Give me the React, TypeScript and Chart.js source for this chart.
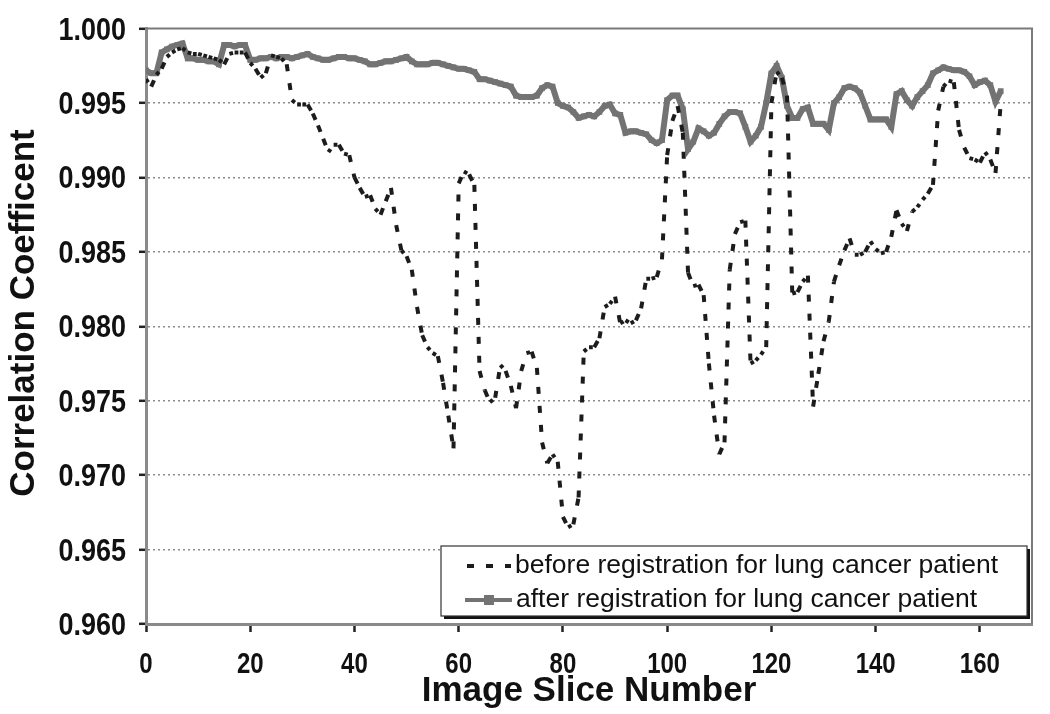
import React, { useEffect, useRef } from "react";
import { Chart, registerables } from "chart.js";

Chart.register(...registerables);

// Correlation coefficient per image slice (slice numbers 0..164)
const beforeRegistration: number[] = [
  0.9966, 0.9961, 0.9969, 0.9973, 0.9981, 0.9984, 0.9986, 0.9987, 0.9984, 0.9983,
  0.9983, 0.9982, 0.9981, 0.998, 0.9979, 0.9976, 0.9983, 0.9984, 0.9984, 0.9984,
  0.9977, 0.9973, 0.9967, 0.997, 0.9982, 0.9981, 0.998, 0.9976, 0.9952, 0.9949,
  0.9949, 0.9949, 0.9943, 0.9935, 0.9926, 0.9917, 0.9922, 0.9922, 0.9916, 0.9915,
  0.99, 0.9893, 0.9887, 0.9888, 0.9879, 0.9875, 0.9884, 0.9893, 0.9868, 0.9851,
  0.9847, 0.9838, 0.9813, 0.9794, 0.9786, 0.9782, 0.978, 0.9762, 0.974, 0.9718,
  0.9896, 0.9904, 0.9902, 0.9895, 0.977, 0.9757, 0.9749, 0.9752, 0.9774, 0.977,
  0.976, 0.9745, 0.977, 0.9782, 0.9783, 0.9772, 0.9722, 0.9708, 0.9714, 0.9709,
  0.9672, 0.9665, 0.9667, 0.9685, 0.9783, 0.9786, 0.9786, 0.9792, 0.9813, 0.9815,
  0.982, 0.9802, 0.9804, 0.9802, 0.9804, 0.9812, 0.9832, 0.9832, 0.9833, 0.9845,
  0.9915, 0.9938, 0.9948, 0.993, 0.9836, 0.9827, 0.9828, 0.9821, 0.9775, 0.974,
  0.9714, 0.9722, 0.9838, 0.9862, 0.987, 0.9871, 0.9775, 0.9777, 0.9781, 0.9786,
  0.995, 0.9971, 0.9967, 0.9955, 0.9822, 0.9823, 0.983, 0.9834, 0.9746, 0.9768,
  0.979, 0.9803, 0.983, 0.9841, 0.9851, 0.9859, 0.9848, 0.9848, 0.985, 0.9857,
  0.9852, 0.9849, 0.985, 0.986, 0.9878, 0.9869, 0.9864, 0.9877, 0.988, 0.9885,
  0.9889, 0.9895, 0.9945, 0.9961, 0.9965, 0.9964, 0.9932, 0.992, 0.9913, 0.9912,
  0.991, 0.9917, 0.9912, 0.9903, 0.9950,
];

const afterRegistration: number[] = [
  0.9972, 0.997, 0.997, 0.9984, 0.9986, 0.9988, 0.9989, 0.999, 0.998, 0.998,
  0.9979, 0.9979, 0.9978, 0.9978, 0.9976, 0.9989, 0.9989, 0.9988, 0.9989, 0.9989,
  0.9979, 0.9979, 0.998, 0.998, 0.9981, 0.998, 0.9981, 0.9981, 0.998, 0.9981,
  0.9982, 0.9983, 0.9981, 0.998, 0.9979, 0.9979, 0.998, 0.9981, 0.9981, 0.998,
  0.998, 0.9979, 0.9978, 0.9976, 0.9976, 0.9977, 0.9978, 0.9978, 0.9979, 0.998,
  0.9981, 0.9978, 0.9976, 0.9976, 0.9976, 0.9977, 0.9977, 0.9976, 0.9975, 0.9974,
  0.9973, 0.9973, 0.9972, 0.9971, 0.9966, 0.9966, 0.9965, 0.9964, 0.9963, 0.9962,
  0.9961, 0.9955, 0.9954, 0.9954, 0.9954, 0.9955, 0.996, 0.9962, 0.9961, 0.995,
  0.9948, 0.9947, 0.9944, 0.994, 0.9941, 0.9942, 0.9941, 0.9944, 0.9948, 0.9949,
  0.9943, 0.9942, 0.993, 0.9931, 0.9931, 0.993, 0.9929, 0.9925, 0.9923, 0.9925,
  0.9952, 0.9955, 0.9955, 0.9946, 0.9919, 0.9924, 0.9933, 0.9931, 0.9928, 0.993,
  0.9936, 0.9941, 0.9944, 0.9944, 0.9943, 0.9934, 0.9924, 0.9928, 0.9934, 0.995,
  0.997, 0.9975, 0.9967, 0.9948, 0.994, 0.994, 0.9946, 0.9947, 0.9936, 0.9936,
  0.9936, 0.9932, 0.995, 0.9954, 0.996, 0.9961, 0.996, 0.9957, 0.9948, 0.9939,
  0.9939, 0.9939, 0.9939, 0.9934, 0.9956, 0.9958, 0.9952, 0.9948, 0.9954, 0.9958,
  0.9962, 0.997, 0.9972, 0.9974, 0.9973, 0.9972, 0.9972, 0.9971, 0.9968, 0.9962,
  0.9964, 0.9965, 0.9962, 0.9951, 0.9958,
];

const xTickValues: number[] = [0, 20, 40, 60, 80, 100, 120, 140, 160];
const yTickLabels: string[] = ["0.960", "0.965", "0.970", "0.975", "0.980", "0.985", "0.990", "0.995", "1.000"];

const beforeLabel = "before registration for lung cancer patient";
const afterLabel = "after registration for lung cancer patient";
const xTitle = "Image Slice Number";
const yTitle = "Correlation Coefficent";

const FONT = '"Liberation Sans", Arial, Helvetica, sans-serif';
const AFTER_COLOR = "#737373";
const BEFORE_COLOR = "#1c1c1c";

// draws the condensed bold tick labels at the positions given by the chart's scales
const tickLabels = {
  id: "tickLabels",
  afterDraw(chart: any) {
    const { ctx } = chart;
    const xs = chart.scales.x;
    const ys = chart.scales.y;
    ctx.save();
    ctx.fillStyle = "#111";
    ctx.textBaseline = "alphabetic";
    // y labels
    ctx.font = `bold 31px ${FONT}`;
    ctx.textAlign = "right";
    ys.ticks.forEach((t: any, i: number) => {
      const py = ys.getPixelForValue(t.value);
      ctx.save();
      ctx.translate(126, py + 11);
      ctx.scale(0.87, 1);
      ctx.fillText(yTickLabels[i], 0, 0);
      ctx.restore();
    });
    // x labels
    ctx.font = `bold 30px ${FONT}`;
    ctx.textAlign = "center";
    xs.ticks.forEach((t: any) => {
      const px = xs.getPixelForValue(t.value);
      ctx.save();
      ctx.translate(px, 673);
      ctx.scale(0.8, 1);
      ctx.fillText(String(t.value), 0, 0);
      ctx.restore();
    });
    ctx.restore();
  },
};

const frameAndLegend = {
  id: "frameAndLegend",
  afterDraw(chart: any) {
    const { ctx, chartArea } = chart;
    const { left, right, top, bottom } = chartArea;
    ctx.save();
    // top and right frame lines
    ctx.strokeStyle = "#7a7a7a";
    ctx.lineWidth = 2;
    ctx.beginPath();
    ctx.moveTo(left, top);
    ctx.lineTo(right, top);
    ctx.lineTo(right, bottom);
    ctx.stroke();

    // y axis title
    ctx.save();
    ctx.translate(24, 313);
    ctx.rotate(-Math.PI / 2);
    ctx.fillStyle = "#111";
    ctx.font = `bold 35px ${FONT}`;
    ctx.textAlign = "center";
    ctx.textBaseline = "middle";
    ctx.fillText(yTitle, 0, 0);
    ctx.restore();

    // legend box
    const bx = 441, by = 546, bw = 586, bh = 70;
    ctx.fillStyle = "#111";
    ctx.fillRect(bx + 3, by + 3, bw, bh);
    ctx.fillStyle = "#fff";
    ctx.fillRect(bx, by, bw, bh);
    ctx.strokeStyle = "#333";
    ctx.lineWidth = 1.2;
    ctx.strokeRect(bx, by, bw, bh);

    const y1 = 566, y2 = 600;
    // before sample
    ctx.strokeStyle = BEFORE_COLOR;
    ctx.lineWidth = 4;
    ctx.setLineDash([7, 12]);
    ctx.beginPath();
    ctx.moveTo(467, y1);
    ctx.lineTo(511, y1);
    ctx.stroke();
    ctx.setLineDash([]);
    // after sample
    ctx.strokeStyle = AFTER_COLOR;
    ctx.lineWidth = 4;
    ctx.beginPath();
    ctx.moveTo(465, y2);
    ctx.lineTo(512, y2);
    ctx.stroke();
    ctx.fillStyle = AFTER_COLOR;
    ctx.fillRect(484, y2 - 5, 10, 10);

    ctx.fillStyle = "#111";
    ctx.font = `26.5px ${FONT}`;
    ctx.textBaseline = "middle";
    ctx.textAlign = "left";
    ctx.fillText(beforeLabel, 515, y1);
    ctx.fillText(afterLabel, 516, y2);
    ctx.restore();
  },
};

export default function App() {
  const canvasRef = useRef<HTMLCanvasElement | null>(null);

  useEffect(() => {
    const canvas = canvasRef.current;
    if (!canvas) return;

    const beforePts = beforeRegistration.map((v, i) => ({ x: i, y: v }));
    const afterPts = afterRegistration.map((v, i) => ({ x: i, y: v }));

    const chart = new Chart(canvas, {
      type: "line",
      data: {
        datasets: [
          {
            label: beforeLabel,
            data: beforePts,
            borderColor: BEFORE_COLOR,
            borderWidth: 4,
            borderCapStyle: "butt",
            pointRadius: 0,
            tension: 0,
            fill: false,
            segment: {
              borderDash: (c: any) => {
                const len = Math.hypot(c.p1.x - c.p0.x, c.p1.y - c.p0.y);
                return len < 10 ? [3.8, 60] : [7, 12];
              },
              borderDashOffset: (c: any) => (c.p0DataIndex % 2) * 0.01,
            },
          } as any,
          {
            label: afterLabel,
            data: afterPts,
            borderColor: AFTER_COLOR,
            borderWidth: 6,
            pointStyle: "rect",
            pointRadius: 4,
            pointBorderWidth: 0,
            pointBackgroundColor: AFTER_COLOR,
            tension: 0,
            fill: false,
          } as any,
        ],
      },
      options: {
        responsive: false,
        animation: false,
        devicePixelRatio: 1,
        layout: { padding: { top: 21, right: 18, left: 0, bottom: 0 } },
        plugins: { legend: { display: false }, tooltip: { enabled: false } },
        scales: {
          x: {
            type: "linear",
            min: 0,
            max: 170,
            afterBuildTicks: (s: any) => {
              s.ticks = xTickValues.map((v) => ({ value: v }));
            },
            afterFit: (s: any) => {
              s.height = 90;
            },
            ticks: {
              font: { family: FONT, size: 24, weight: "bold" },
              color: "rgba(0,0,0,0)",
              padding: 14,
              maxRotation: 0,
              autoSkip: false,
            },
            grid: {
              drawOnChartArea: false,
              drawTicks: true,
              tickLength: 8,
              tickColor: "#222",
              tickWidth: 2.5,
            },
            border: { display: true, color: "#8a8a8a", width: 3 },
            title: {
              display: true,
              text: xTitle,
              color: "#111",
              font: { family: FONT, size: 35, weight: "bold" },
              padding: { top: 0, bottom: 2 },
            },
          },
          y: {
            type: "linear",
            min: 0.96,
            max: 1.0,
            afterBuildTicks: (s: any) => {
              s.ticks = yTickLabels.map((t) => ({ value: parseFloat(t) }));
            },
            afterFit: (s: any) => {
              s.width = 146;
            },
            ticks: {
              font: { family: FONT, size: 26, weight: "bold" },
              color: "rgba(0,0,0,0)",
              padding: 13,
              autoSkip: false,
              callback: (_v: any, i: number) => yTickLabels[i],
            },
            grid: {
              drawOnChartArea: true,
              drawTicks: true,
              tickLength: 7,
              lineWidth: 1.6,
              color: (c: any) => {
                const v = c.tick ? c.tick.value : 0;
                return Math.abs(v - 0.96) < 1e-6 || Math.abs(v - 1) < 1e-6 ? "rgba(0,0,0,0)" : "#8c8c8c";
              },
              tickColor: "#222",
              tickWidth: 2.5,
              tickBorderDash: [],
            } as any,
            border: { display: true, color: "#8a8a8a", width: 3, dash: [2, 3] },
            title: { display: false },
          },
        },
      } as any,
      plugins: [frameAndLegend, tickLabels],
    });
    return () => chart.destroy();
  }, []);

  return (
    <div style={{ position: "absolute", left: 0, top: 0, width: 1050, height: 714, background: "#fff" }}>
      <canvas ref={canvasRef} width={1050} height={714} style={{ width: 1050, height: 714, display: "block" }} />
    </div>
  );
}
